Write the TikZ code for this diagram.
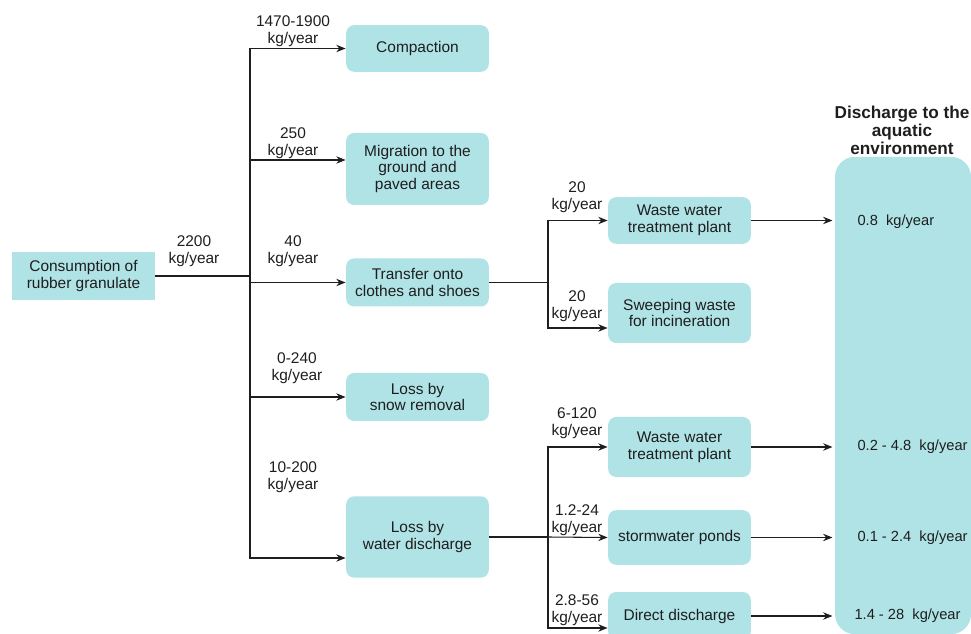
\documentclass[tikz,border=0pt]{standalone}
\usepackage{fontspec}
\setmainfont{Liberation Sans}
\usepackage{tikz}
\usetikzlibrary{arrows.meta,calc}
\definecolor{boxTeal}{HTML}{B0E3E6}
\definecolor{inkGray}{HTML}{1E1E1E}

\begin{document}
\begin{tikzpicture}[x=0.75pt, y=-0.75pt, line width=0.8pt, inkGray,
    every node/.style={font=\fontsize{11.6}{12.7}\selectfont, text=inkGray},
    box/.style={fill=boxTeal, rounded corners=6pt, minimum width=107pt, align=center, inner sep=0pt},
    qty/.style={align=center, inner sep=0pt},
    flow/.style={-{Stealth[length=7pt,width=5.5pt]}}]
  \useasboundingbox (0,0) rectangle (971,634);
  \clip (0,0) rectangle (971,634);
  % Source
  \node[box, rounded corners=0pt, minimum height=36pt]
    (src) at (83.5,276) {Consumption of\\rubber granulate};
  % First split
  \node[box, minimum height=35pt] (comp) at (417.5,48.5) {Compaction};
  \node[box, minimum height=54pt] (migr) at (417.5,169) {Migration to the\\ground and\\paved areas};
  \node[box, minimum height=36pt] (trans) at (417.5,282.5) {Transfer onto\\clothes and shoes};
  \node[box, minimum height=36pt] (snow) at (417.5,397) {Loss by\\snow removal};
  \node[box, minimum height=61pt] (water) at (417.5,537) {Loss by\\water discharge};
  % Second split
  \node[box, minimum height=35pt] (wwtpA) at (679.5,220.5) {Waste water\\treatment plant};
  \node[box, minimum height=45pt] (sweep) at (679.5,313) {Sweeping waste\\for incineration};
  \node[box, minimum height=45pt] (wwtpB) at (679.5,447) {Waste water\\treatment plant};
  \node[box, minimum height=41pt] (storm) at (679.5,537.5) {stormwater ponds};
  \node[box, minimum height=36pt] (direct) at (679.5,616) {Direct discharge};
  % Recipient
  \node[box, rounded corners=15pt, minimum width=102pt, minimum height=358pt]
    (disch) at (903,395.5) {};
  \node[qty, font=\fontsize{12.9}{13.5}\selectfont\bfseries] (head) at (902,130)
    {Discharge to the\\aquatic\\environment};
  \node[qty, anchor=west, font=\fontsize{11}{12}\selectfont] (vA) at (857,222) {0.8\ \ kg/year};
  \node[qty, anchor=west, font=\fontsize{11}{12}\selectfont] (vB) at (857,447) {0.2 - 4.8\ \ kg/year};
  \node[qty, anchor=west, font=\fontsize{11}{12}\selectfont] (vC) at (857,537.5) {0.1 - 2.4\ \ kg/year};
  \node[qty, anchor=west, font=\fontsize{11}{12}\selectfont] (vD) at (854,616) {1.4 - 28\ \ kg/year};
  % Junctions
  \coordinate (jA) at (250,276);
  \coordinate (jT) at (548,282.5);
  \coordinate (jW) at (548,537);
  % Flows from the source
  \draw (src.east) -- (jA);
  \draw[flow] (jA) |- (comp.west);
  \draw[flow] (jA) |- ($(migr.west)+(0,-9)$);
  \draw[flow] (jA) |- (trans.west);
  \draw[flow] (jA) |- (snow.west);
  \draw[flow] (jA) |- ($(water.west)+(0,21)$);
  % Flows after transfer
  \draw (trans.east) -- (jT);
  \draw[flow] (jT) |- (wwtpA.west);
  \draw[flow] (jT) |- ($(sweep.west)+(0,15)$);
  % Flows after water discharge
  \draw (water.east) -- (jW);
  \draw[flow] (jW) |- (wwtpB.west);
  \draw[flow] (jW) -- (storm.west);
  \draw[flow] (jW) |- ($(direct.west)+(0,12)$);
  % Discharge arrows
  \draw[flow] (wwtpA.east) -- ($(disch.west |- wwtpA.east)+(-2,0)$);
  \draw[flow] (wwtpB.east) -- ($(disch.west |- wwtpB.east)+(-2,0)$);
  \draw[flow] (storm.east) -- ($(disch.west |- storm.east)+(-2,0)$);
  \draw[flow] (direct.east) -- ($(disch.west |- direct.east)+(-2,0)$);
  % Labels
  \node[qty] (q2200) at (194,251.5) {2200\\kg/year};
  \node[qty] (qComp) at (293,31) {1470-1900\\kg/year};
  \node[qty] (qMigr) at (293,143.5) {250\\kg/year};
  \node[qty] (qTrans) at (293,251.5) {40\\kg/year};
  \node[qty] (qSnow) at (297,368.5) {0-240\\kg/year};
  \node[qty] (qWater) at (293,477) {10-200\\kg/year};
  \node[qty] (qA) at (577,197.5) {20\\kg/year};
  \node[qty] (qS) at (577,306.5) {20\\kg/year};
  \node[qty] (qB) at (577,423.5) {6-120\\kg/year};
  \node[qty] (qC) at (577,520) {1.2-24\\kg/year};
  \node[qty] (qD) at (577,610) {2.8-56\\kg/year};
\end{tikzpicture}
\end{document}
